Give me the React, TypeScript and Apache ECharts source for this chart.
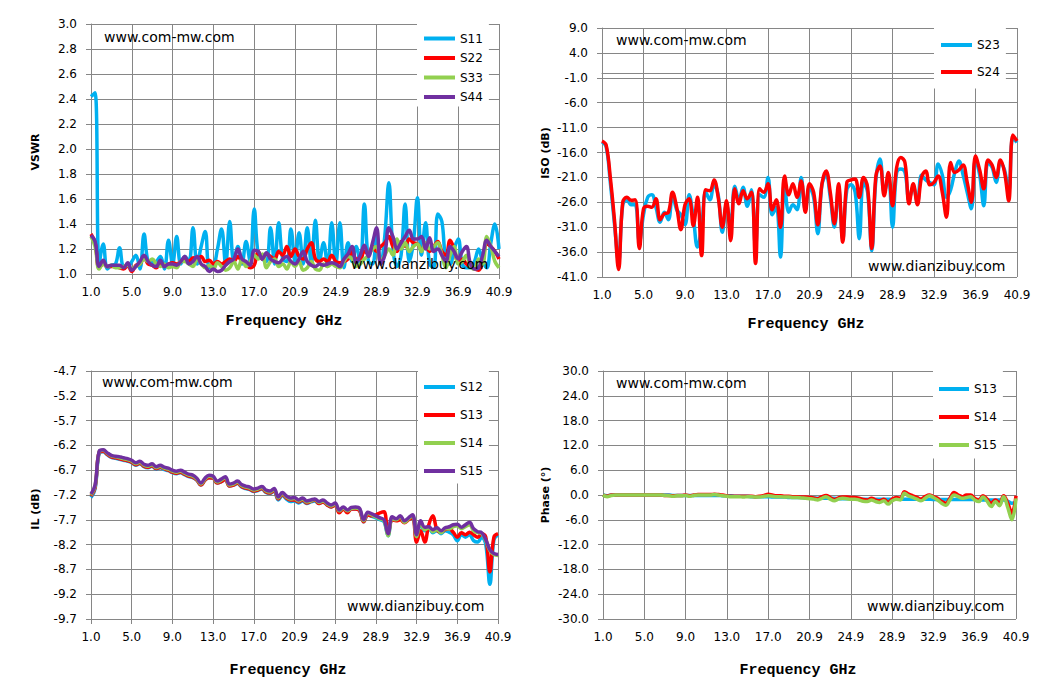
import React, { useRef, useEffect } from "react";
import * as echarts from "echarts";

// sweep: 101 points from 1.0 to 40.9 GHz
const FREQ = Array.from({ length: 101 }, (_, i) => (1 + i * 0.399).toFixed(2));
const X_LABELS = ["1.0", "5.0", "9.0", "13.0", "17.0", "20.9", "24.9", "28.9", "32.9", "36.9", "40.9"];

const VSWR_TICKS = [1.0, 1.2, 1.4, 1.6, 1.8, 2.0, 2.2, 2.4, 2.6, 2.8, 3.0];
const ISO_TICKS = [-41, -36, -31, -26, -21, -16, -11, -6, -1, 4, 9];
const IL_TICKS = [-9.7, -9.2, -8.7, -8.2, -7.7, -7.2, -6.7, -6.2, -5.7, -5.2, -4.7];
const PHASE_TICKS = [-30, -24, -18, -12, -6, 0, 6, 12, 18, 24, 30];

const VSWR_S11 = [
  2.42, 2.45, 1.08, 1.24, 1.04, 1.07, 1.08, 1.21, 1.06, 1.06,
  1.10, 1.15, 1.04, 1.32, 1.10, 1.09, 1.10, 1.14, 1.04, 1.27,
  1.08, 1.30, 1.08, 1.14, 1.10, 1.37, 1.08, 1.22, 1.34, 1.05,
  1.06, 1.20, 1.36, 1.08, 1.42, 1.10, 1.22, 1.08, 1.26, 1.10,
  1.52, 1.15, 1.12, 1.10, 1.37, 1.08, 1.41, 1.12, 1.10, 1.36,
  1.10, 1.33, 1.08, 1.37, 1.08, 1.43, 1.10, 1.25, 1.06, 1.41,
  1.08, 1.41, 1.05, 1.25, 1.10, 1.22, 1.08, 1.56, 1.10, 1.08,
  1.30, 1.08, 1.30, 1.73, 1.20, 1.06, 1.15, 1.56, 1.10, 1.25,
  1.61, 1.15, 1.41, 1.08, 1.05, 1.48, 1.42, 1.10, 1.08, 1.20,
  1.28, 1.08, 1.05, 1.05, 1.10, 1.20, 1.10, 1.05, 1.25, 1.40,
  1.20,
];
const VSWR_S22 = [
  1.32, 1.25, 1.05, 1.08, 1.06, 1.06, 1.06, 1.05, 1.04, 1.07,
  1.02, 1.07, 1.08, 1.13, 1.08, 1.07, 1.05, 1.09, 1.06, 1.08,
  1.09, 1.08, 1.10, 1.12, 1.10, 1.13, 1.12, 1.14, 1.10, 1.11,
  1.08, 1.10, 1.08, 1.10, 1.12, 1.10, 1.14, 1.10, 1.08, 1.05,
  1.07, 1.18, 1.12, 1.16, 1.14, 1.12, 1.18, 1.15, 1.22, 1.14,
  1.20, 1.14, 1.12, 1.20, 1.25, 1.12, 1.10, 1.12, 1.10, 1.15,
  1.10, 1.09, 1.10, 1.12, 1.18, 1.12, 1.12, 1.18, 1.16, 1.22,
  1.18, 1.22, 1.25, 1.30, 1.22, 1.18, 1.26, 1.22, 1.28, 1.25,
  1.24, 1.20, 1.22, 1.18, 1.22, 1.26, 1.18, 1.15, 1.27, 1.20,
  1.10, 1.12, 1.08, 1.06, 1.04, 1.03, 1.10, 1.24, 1.22, 1.18,
  1.12,
];
const VSWR_S33 = [
  1.30, 1.22, 1.04, 1.08, 1.06, 1.07, 1.05, 1.05, 1.06, 1.07,
  1.04, 1.06, 1.08, 1.12, 1.10, 1.12, 1.08, 1.06, 1.08, 1.05,
  1.06, 1.05, 1.10, 1.10, 1.08, 1.06, 1.12, 1.08, 1.05, 1.07,
  1.04, 1.09, 1.06, 1.03, 1.05, 1.10, 1.04, 1.12, 1.06, 1.10,
  1.15, 1.12, 1.16, 1.05, 1.10, 1.12, 1.06, 1.08, 1.04, 1.10,
  1.06, 1.10, 1.03, 1.05, 1.10, 1.04, 1.03, 1.08, 1.06, 1.08,
  1.06, 1.05, 1.10, 1.14, 1.12, 1.06, 1.08, 1.12, 1.15, 1.20,
  1.22, 1.10, 1.15, 1.20, 1.15, 1.28, 1.20, 1.25, 1.18, 1.22,
  1.24, 1.18, 1.25, 1.20, 1.22, 1.25, 1.15, 1.05, 1.15, 1.22,
  1.08, 1.10, 1.15, 1.06, 1.04, 1.12, 1.08, 1.30, 1.22, 1.10,
  1.05,
];
const VSWR_S44 = [
  1.31, 1.26, 1.06, 1.11, 1.06, 1.07, 1.07, 1.07, 1.05, 1.09,
  1.03, 1.06, 1.10, 1.15, 1.10, 1.07, 1.06, 1.11, 1.06, 1.08,
  1.08, 1.07, 1.10, 1.14, 1.08, 1.10, 1.14, 1.08, 1.06, 1.02,
  1.04, 1.02, 1.03, 1.07, 1.10, 1.12, 1.20, 1.12, 1.10, 1.07,
  1.19, 1.18, 1.12, 1.17, 1.12, 1.10, 1.09, 1.12, 1.14, 1.10,
  1.08, 1.12, 1.18, 1.10, 1.07, 1.06, 1.08, 1.07, 1.08, 1.09,
  1.08, 1.06, 1.12, 1.16, 1.22, 1.09, 1.15, 1.23, 1.14, 1.25,
  1.37, 1.08, 1.15, 1.37, 1.30, 1.20, 1.25, 1.30, 1.35, 1.28,
  1.28, 1.30, 1.20, 1.29, 1.18, 1.20, 1.15, 1.10, 1.22, 1.18,
  1.12, 1.18, 1.22, 1.08, 1.04, 1.05, 1.15, 1.27, 1.22, 1.18,
  1.14,
];

const ISO_S23 = [
  -13.9, -14.8, -22.0, -30.3, -38.0, -26.5, -25.5, -26.5, -26.5, -34.0,
  -28.5, -25.0, -24.5, -27.0, -30.0, -28.0, -29.5, -24.5, -27.5, -28.5,
  -30.5, -24.5, -29.0, -35.0, -31.0, -24.0, -25.5, -22.5, -24.5, -32.0,
  -26.5, -30.5, -22.8, -25.5, -23.0, -26.8, -23.5, -35.0, -24.5, -25.0,
  -21.0, -28.5, -27.0, -37.0, -22.0, -28.0, -26.5, -27.5, -21.0, -27.5,
  -23.0, -25.0, -32.3, -22.5, -20.5, -25.0, -31.0, -23.0, -33.5, -23.5,
  -22.5, -24.0, -33.3, -22.0, -24.0, -35.7, -21.5, -17.3, -24.0, -21.0,
  -31.0, -20.0, -19.3, -20.0, -25.5, -22.8, -26.0, -20.5, -21.5, -22.0,
  -22.5, -18.3, -20.5, -25.0, -23.5, -20.0, -17.7, -20.5, -24.0, -27.3,
  -17.5, -20.5, -26.7, -18.0, -19.0, -22.0, -18.0, -19.5, -24.0, -13.0,
  -14.0,
];
const ISO_S24 = [
  -13.7, -14.5, -21.0, -29.5, -39.5, -26.0, -25.0, -25.6, -25.5, -35.3,
  -27.3, -26.8, -27.0, -25.3, -29.5, -28.3, -28.0, -24.0, -27.0, -31.5,
  -26.5, -25.3, -30.7, -25.0, -36.7, -23.5, -23.7, -21.5, -25.0, -31.0,
  -25.7, -33.7, -23.3, -26.3, -23.7, -25.3, -24.0, -38.3, -23.3, -24.0,
  -22.3, -27.5, -25.5, -31.0, -20.7, -24.5, -22.3, -25.0, -21.7, -28.0,
  -22.3, -24.0, -30.5, -22.3, -19.7, -24.0, -30.3, -22.3, -34.0, -22.0,
  -21.5, -21.3, -25.0, -21.0, -23.0, -35.3, -20.7, -18.7, -24.7, -20.0,
  -26.7, -19.0, -17.0, -18.0, -26.3, -22.3, -26.5, -21.0, -19.7, -22.5,
  -22.0, -20.7, -24.0, -29.0, -18.0, -20.0, -19.5, -18.5, -22.0, -26.0,
  -16.7, -19.5, -23.3, -17.5, -18.5, -21.0, -17.5, -20.0, -25.7, -12.5,
  -13.7,
];

const IL_S12 = [
  -7.25, -7.08, -6.36, -6.33, -6.39, -6.44, -6.46, -6.48, -6.50, -6.52,
  -6.55, -6.60, -6.57, -6.63, -6.65, -6.62, -6.68, -6.65, -6.69, -6.71,
  -6.75, -6.77, -6.75, -6.79, -6.83, -6.85, -6.90, -7.00, -6.90, -6.85,
  -6.86, -6.96, -6.93, -6.88, -7.02, -7.00, -6.97, -7.04, -7.07, -7.09,
  -7.13, -7.11, -7.08, -7.15, -7.17, -7.12, -7.30, -7.21, -7.28, -7.33,
  -7.32, -7.36, -7.32, -7.37, -7.34, -7.32, -7.37, -7.34, -7.40, -7.44,
  -7.40, -7.54, -7.48, -7.54, -7.48, -7.48, -7.51, -7.74, -7.60, -7.63,
  -7.66, -7.70, -7.74, -8.02, -7.68, -7.70, -7.66, -7.74, -7.68, -7.63,
  -8.08, -7.78, -7.92, -7.88, -7.96, -7.92, -7.98, -7.92, -7.95, -8.00,
  -8.12, -8.00, -8.05, -8.00, -8.12, -8.15, -8.05, -8.20, -9.00, -8.10,
  -8.00,
];
const IL_S13 = [
  -7.22, -7.05, -6.34, -6.32, -6.38, -6.43, -6.45, -6.47, -6.49, -6.51,
  -6.54, -6.59, -6.56, -6.62, -6.64, -6.61, -6.67, -6.64, -6.67, -6.70,
  -6.74, -6.76, -6.74, -6.78, -6.82, -6.84, -6.90, -7.00, -6.90, -6.85,
  -6.86, -6.96, -6.93, -6.88, -7.02, -7.00, -6.96, -7.03, -7.06, -7.08,
  -7.12, -7.10, -7.07, -7.14, -7.16, -7.11, -7.28, -7.19, -7.26, -7.30,
  -7.30, -7.34, -7.30, -7.36, -7.33, -7.30, -7.37, -7.34, -7.40, -7.44,
  -7.40, -7.56, -7.48, -7.56, -7.48, -7.48, -7.52, -7.74, -7.60, -7.62,
  -7.60, -7.56, -7.54, -7.98, -7.70, -7.72, -7.70, -7.76, -7.70, -7.66,
  -8.15, -7.92, -8.15, -7.80, -7.62, -7.90, -7.95, -7.90, -7.88, -7.95,
  -8.05, -7.96, -8.00, -7.95, -8.00, -8.05, -7.98, -8.05, -8.75, -8.05,
  -7.98,
];
const IL_S14 = [
  -7.20, -7.02, -6.33, -6.30, -6.36, -6.41, -6.43, -6.45, -6.47, -6.49,
  -6.52, -6.57, -6.54, -6.60, -6.62, -6.59, -6.65, -6.62, -6.66, -6.68,
  -6.72, -6.74, -6.72, -6.76, -6.80, -6.82, -6.88, -6.98, -6.88, -6.82,
  -6.84, -6.94, -6.90, -6.85, -7.00, -6.98, -6.94, -7.01, -7.04, -7.06,
  -7.10, -7.08, -7.05, -7.12, -7.14, -7.09, -7.26, -7.17, -7.24, -7.28,
  -7.27, -7.32, -7.28, -7.34, -7.32, -7.29, -7.35, -7.32, -7.38, -7.42,
  -7.38, -7.52, -7.46, -7.52, -7.47, -7.46, -7.49, -7.72, -7.57, -7.60,
  -7.64, -7.68, -7.72, -8.02, -7.67, -7.70, -7.64, -7.75, -7.68, -7.62,
  -8.04, -7.76, -7.90, -7.86, -7.94, -7.90, -7.96, -7.88, -7.88, -7.84,
  -7.82, -7.88, -7.84, -7.80, -7.92, -7.96, -7.98, -8.12, -8.32, -8.40,
  -8.42,
];
const IL_S15 = [
  -7.18, -7.00, -6.32, -6.29, -6.35, -6.40, -6.42, -6.43, -6.45, -6.47,
  -6.50, -6.55, -6.52, -6.58, -6.60, -6.57, -6.63, -6.60, -6.64, -6.66,
  -6.70, -6.72, -6.70, -6.74, -6.78, -6.80, -6.86, -6.96, -6.86, -6.80,
  -6.82, -6.92, -6.88, -6.83, -6.98, -6.96, -6.92, -6.99, -7.02, -7.04,
  -7.08, -7.06, -7.03, -7.10, -7.12, -7.07, -7.24, -7.15, -7.22, -7.26,
  -7.25, -7.30, -7.26, -7.32, -7.30, -7.28, -7.33, -7.30, -7.36, -7.40,
  -7.36, -7.50, -7.44, -7.50, -7.45, -7.44, -7.47, -7.70, -7.55, -7.58,
  -7.62, -7.66, -7.70, -7.98, -7.64, -7.68, -7.62, -7.72, -7.66, -7.60,
  -8.00, -7.72, -7.85, -7.84, -7.90, -7.86, -7.92, -7.86, -7.84, -7.80,
  -7.79, -7.85, -7.80, -7.75, -7.88, -7.94, -7.96, -8.10, -8.30, -8.38,
  -8.40,
];

const PH_S13 = [
  0.0, -0.2, 0.0, 0.0, 0.0, 0.0, 0.0, 0.0, 0.0, 0.0,
  0.0, 0.0, 0.0, 0.0, 0.0, 0.0, 0.0, -0.1, -0.1, -0.1,
  -0.1, -0.1, -0.1, -0.1, -0.1, -0.1, -0.1, -0.1, -0.1, -0.2,
  -0.2, -0.2, -0.3, -0.3, -0.3, -0.3, -0.4, -0.4, -0.4, -0.4,
  -0.4, -0.5, -0.5, -0.5, -0.5, -0.6, -0.6, -0.6, -0.6, -0.7,
  -0.7, -0.7, -0.8, -0.8, -0.8, -0.8, -0.8, -0.9, -0.9, -0.9,
  -0.9, -0.9, -0.9, -1.0, -1.0, -1.0, -1.0, -1.0, -1.0, -1.0,
  -1.0, -1.0, -1.0, -1.0, -1.0, -1.0, -1.0, -1.0, -1.0, -1.0,
  -1.1, -1.1, -1.1, -1.1, -1.1, -1.1, -1.1, -1.1, -1.1, -1.1,
  -1.1, -1.1, -1.2, -1.2, -1.2, -1.2, -1.2, -1.2, -1.5, -2.0,
  -1.8,
];
const PH_S14 = [
  0.0, -0.3, 0.0, 0.0, 0.0, 0.0, 0.0, 0.0, 0.0, 0.0,
  0.0, 0.0, 0.0, 0.0, 0.0, -0.1, -0.1, -0.2, -0.1, -0.1,
  0.0, -0.2, 0.0, 0.1, 0.1, 0.1, 0.1, 0.2, 0.1, 0.0,
  -0.2, -0.3, -0.3, -0.3, -0.3, -0.3, -0.3, -0.4, -0.3, -0.1,
  0.2, 0.0, -0.2, -0.2, -0.3, -0.3, -0.4, -0.4, -0.5, -0.5,
  -0.6, -0.7, -0.9, -0.4, -0.1, -0.6, -1.1, -0.7, -0.5, -0.5,
  -0.6, -0.6, -0.8, -1.1, -1.2, -0.8, -1.2, -1.4, -1.0, -1.8,
  -1.0, -0.6, -0.8, 0.8, 0.2, -0.2, -0.6, -1.0, -0.4, 0.0,
  -0.4, -0.8, -1.6, -2.0, -0.8, 0.6, 0.0, -0.4, 0.0, 0.0,
  -0.8, -1.2, -0.2, -1.0, -2.0, -1.2, -2.0, -0.2, -2.0, -4.4,
  -0.2,
];
const PH_S15 = [
  0.0, -0.4, -0.1, 0.0, 0.0, 0.0, 0.0, 0.0, 0.0, 0.0,
  0.0, 0.0, 0.0, 0.0, 0.0, -0.1, -0.2, -0.3, -0.2, -0.2,
  -0.1, -0.3, -0.1, 0.0, 0.0, 0.0, 0.0, 0.1, 0.0, -0.2,
  -0.3, -0.4, -0.4, -0.4, -0.5, -0.4, -0.4, -0.5, -0.5, -0.3,
  -0.2, -0.3, -0.4, -0.4, -0.5, -0.5, -0.6, -0.6, -0.7, -0.8,
  -0.9, -1.0, -1.2, -0.8, -0.4, -1.0, -1.4, -1.0, -0.8, -0.9,
  -1.0, -1.0, -1.2, -1.5, -1.6, -1.2, -1.6, -1.8, -1.4, -2.2,
  -1.4, -1.0, -1.2, 0.4, -0.2, -0.6, -1.0, -1.4, -0.8, -0.2,
  -0.6, -1.2, -2.0, -2.5, -1.2, 0.0, -0.4, -0.8, -0.6, -0.4,
  -1.2, -1.6, -0.5, -1.5, -2.8, -1.6, -2.6, -0.4, -3.0, -6.0,
  -0.8,
];

const BLUE = "#00b0f0";
const RED = "#ff0000";
const GREEN = "#92d050";
const PURPLE = "#7030a0";
const GRID_COLOR = "#868686";
const FONT = "'DejaVu Sans', Verdana, sans-serif";

const labelByFreq: Record<string, string> = {};
X_LABELS.forEach((l, k) => {
  labelByFreq[FREQ[k * 10]] = l;
});

function xAxisFor(gridIndex: number) {
  return {
    type: "category",
    gridIndex,
    data: FREQ,
    boundaryGap: false,
    axisLine: { lineStyle: { color: GRID_COLOR, width: 1 } },
    axisTick: { interval: 9, length: 5, lineStyle: { color: GRID_COLOR } },
    axisLabel: {
      interval: 9,
      margin: 12,
      color: "#000",
      fontSize: 12,
      fontFamily: FONT,
      formatter: (v: string) => labelByFreq[v] ?? "",
    },
    splitLine: { show: true, interval: 9, lineStyle: { color: GRID_COLOR, width: 1 } },
  };
}

function yAxisFor(gridIndex: number, ticks: number[]) {
  return {
    type: "value",
    gridIndex,
    min: ticks[0],
    max: ticks[ticks.length - 1],
    axisLine: { show: true, lineStyle: { color: GRID_COLOR, width: 1 } },
    axisTick: { show: true, length: 5, customValues: ticks, lineStyle: { color: GRID_COLOR } },
    axisLabel: {
      customValues: ticks,
      margin: 14,
      color: "#000",
      fontSize: 12,
      fontFamily: FONT,
      formatter: (v: number) => v.toFixed(1),
    },
    splitLine: { show: true, lineStyle: { color: GRID_COLOR, width: 1 } },
  };
}

function line(name: string, data: number[], color: string, idx: number) {
  return {
    type: "line",
    name,
    data,
    xAxisIndex: idx,
    yAxisIndex: idx,
    color,
    showSymbol: false,
    symbol: "none",
    smooth: 0.4,
    lineStyle: { width: 3.5, color },
    itemStyle: { color },
    silent: true,
  };
}

function legendFor(
  left: number,
  top: number,
  padding: number[],
  itemGap: number,
  itemWidth: number,
  items: [string, string][]
) {
  return {
    left,
    top,
    orient: "vertical",
    backgroundColor: "#fff",
    padding,
    itemGap,
    itemWidth,
    itemHeight: 4,
    icon: "rect",
    selectedMode: false,
    formatter: (n: string) => n.replace(" phase", ""),
    textStyle: { fontSize: 12, lineHeight: 15, color: "#000", fontFamily: FONT },
    data: items.map(([name, color]) => ({ name, itemStyle: { color } })),
  };
}

function text(x: number, y: number, t: string, font: string, rotation = 0, align = "left") {
  return {
    type: "text",
    x,
    y,
    z: 100,
    rotation,
    silent: true,
    style: {
      text: t,
      font,
      fill: "#000",
      align,
      textAlign: align,
      verticalAlign: "middle",
      textVerticalAlign: "middle",
    },
  };
}

const WM = `14px ${FONT}`;
const XT = "bold 15px 'Liberation Mono', 'Courier New', monospace";
const YT = `bold 11px ${FONT}`;

export default function App() {
  const chartRef = useRef<HTMLDivElement>(null);

  useEffect(() => {
    if (!chartRef.current) return;
    const chart = echarts.init(chartRef.current, null, { renderer: "svg" });

    const option = {
      animation: false,
      backgroundColor: "#fff",
      grid: [
        { left: 91, top: 24, width: 408, height: 250 },
        { left: 602, top: 28, width: 415, height: 249 },
        { left: 91, top: 371, width: 407, height: 248 },
        { left: 603, top: 371, width: 413, height: 248 },
      ],
      xAxis: [0, 1, 2, 3].map(xAxisFor),
      yAxis: [
        yAxisFor(0, VSWR_TICKS),
        yAxisFor(1, ISO_TICKS),
        yAxisFor(2, IL_TICKS),
        yAxisFor(3, PHASE_TICKS),
      ],
      legend: [
        legendFor(417, 24, [7, 6, 2, 7], 4.5, 31, [
          ["S11", BLUE],
          ["S22", RED],
          ["S33", GREEN],
          ["S44", PURPLE],
        ]),
        legendFor(934, 28, [9.5, 6, 9, 7], 12, 31, [
          ["S23", BLUE],
          ["S24", RED],
        ]),
        legendFor(418, 371, [8.5, 6, 5, 6], 13, 31, [
          ["S12", BLUE],
          ["S13", RED],
          ["S14", GREEN],
          ["S15", PURPLE],
        ]),
        legendFor(933, 371, [10.5, 6, 6, 6], 13, 30, [
          ["S13 phase", BLUE],
          ["S14 phase", RED],
          ["S15 phase", GREEN],
        ]),
      ],
      series: [
        line("S11", VSWR_S11, BLUE, 0),
        line("S22", VSWR_S22, RED, 0),
        line("S33", VSWR_S33, GREEN, 0),
        line("S44", VSWR_S44, PURPLE, 0),
        line("S23", ISO_S23, BLUE, 1),
        line("S24", ISO_S24, RED, 1),
        line("S12", IL_S12, BLUE, 2),
        line("S13", IL_S13, RED, 2),
        line("S14", IL_S14, GREEN, 2),
        line("S15", IL_S15, PURPLE, 2),
        line("S13 phase", PH_S13, BLUE, 3),
        line("S14 phase", PH_S14, RED, 3),
        line("S15 phase", PH_S15, GREEN, 3),
      ],
      graphic: [
        text(104, 37, "www.com-mw.com", WM),
        text(351, 264, "www.dianzibuy.com", WM),
        text(616, 40, "www.com-mw.com", WM),
        text(868, 266, "www.dianzibuy.com", WM),
        text(102, 382, "www.com-mw.com", WM),
        text(347, 606, "www.dianzibuy.com", WM),
        text(616, 383, "www.com-mw.com", WM),
        text(867, 606, "www.dianzibuy.com", WM),
        text(284, 321, "Frequency GHz", XT, 0, "center"),
        text(806, 324, "Frequency GHz", XT, 0, "center"),
        text(288, 670, "Frequency GHz", XT, 0, "center"),
        text(798, 670, "Frequency GHz", XT, 0, "center"),
        text(35, 152, "VSWR", YT, Math.PI / 2, "center"),
        text(545, 153, "ISO (dB)", YT, Math.PI / 2, "center"),
        text(35, 509, "IL (dB)", YT, Math.PI / 2, "center"),
        text(545, 495, "Phase (°)", YT, Math.PI / 2, "center"),
      ],
    };

    chart.setOption(option as any);
    return () => chart.dispose();
  }, []);

  return (
    <div
      ref={chartRef}
      style={{ position: "absolute", left: 0, top: 0, width: 1050, height: 698, background: "#fff" }}
    />
  );
}
